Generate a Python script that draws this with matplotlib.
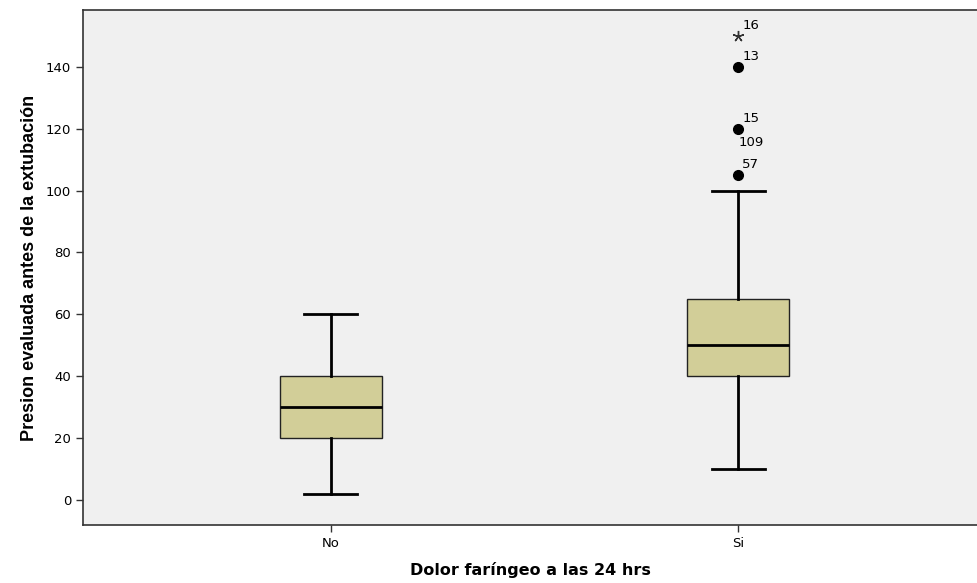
import matplotlib
matplotlib.use("Agg")
import matplotlib.pyplot as plt

# box summaries
groups = ["No", "Si"]
q1 = [20, 40]
medians = [30, 50]
q3 = [40, 65]
whisk_lo = [2, 10]
whisk_hi = [60, 100]

# outliers in group "Si" (case numbers as labels)
out_vals = [105, 120, 140]
out_labels = [["57"], ["15", "109"], ["13"]]
extreme_vals = [150]
extreme_labels = ["16"]

box_color = "#D2CE98"
bg = "#F0F0F0"

plt.rcParams["font.family"] = ["DejaVu Sans"]

fig = plt.figure(figsize=(9.77, 5.83), dpi=100)
ax = fig.add_axes([0.085, 0.0995, 0.915, 0.8834])
ax.set_facecolor(bg)

stats = []
for i, g in enumerate(groups):
    stats.append(dict(label=g, q1=q1[i], med=medians[i], q3=q3[i],
                      whislo=whisk_lo[i], whishi=whisk_hi[i], fliers=[]))

pos = [1, 2]
ax.bxp(stats, positions=pos, widths=0.25, patch_artist=True, showfliers=False,
       boxprops=dict(facecolor=box_color, edgecolor="#222222", linewidth=1.0),
       medianprops=dict(color="black", linewidth=2),
       whiskerprops=dict(color="black", linewidth=2),
       capprops=dict(color="black", linewidth=2),
       capwidths=0.13)

# outliers
ax.plot([2] * len(out_vals), out_vals, "o", color="black", markersize=7, zorder=3)
ax.plot([2] * len(extreme_vals), extreme_vals, marker=(5, 2, 0), color="#333333",
        markersize=8, linestyle="none", markeredgewidth=1.0, zorder=3)

for v, labs in zip(out_vals, out_labels):
    ax.annotate(labs[0], (2, v), xytext=(3, 3), textcoords="offset points",
                fontsize=9.5, ha="left", va="bottom")
    if len(labs) > 1:
        ax.annotate(labs[1], (2, v), xytext=(0, -5), textcoords="offset points",
                    fontsize=9.5, ha="left", va="top")
for v, lab in zip(extreme_vals, extreme_labels):
    ax.annotate(lab, (2, v), xytext=(3, 3), textcoords="offset points",
                fontsize=9.5, ha="left", va="bottom")

ax.set_xlim(0.392, 2.586)
ax.set_ylim(-8.1, 158.4)
ax.set_yticks(range(0, 141, 20))
ax.set_xticks(pos)
ax.set_xticklabels(groups)
ax.tick_params(axis="both", labelsize=9.5, length=5, width=1, color="#333333")

for s in ["top", "left", "bottom"]:
    ax.spines[s].set_color("#333333")
    ax.spines[s].set_linewidth(1.2)
ax.spines["right"].set_visible(False)

ax.set_xlabel("Dolor faríngeo a las 24 hrs", fontsize=11.5, fontweight="bold", labelpad=9)
ax.set_ylabel("Presion evaluada antes de la extubación", fontsize=13,
              fontweight="bold", family=["Liberation Sans", "DejaVu Sans"], labelpad=6)

fig.savefig("out.png", dpi=100)
